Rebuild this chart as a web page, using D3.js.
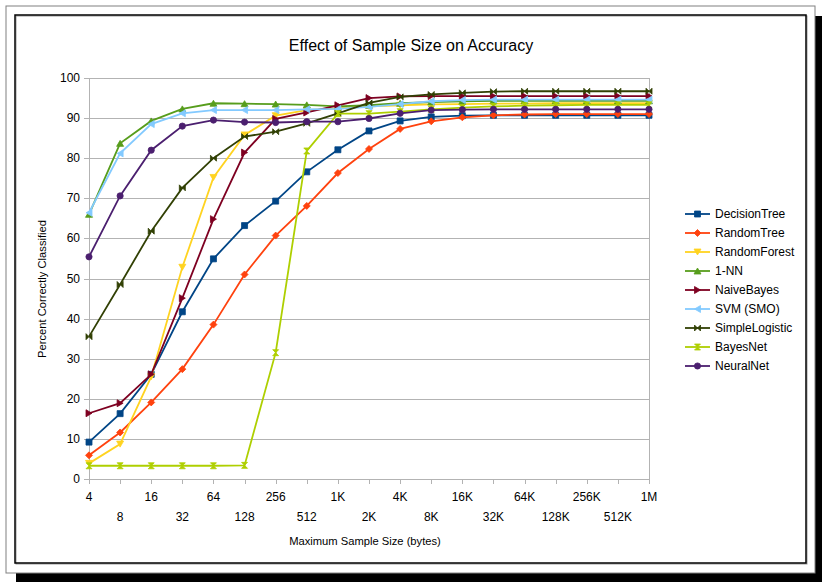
<!DOCTYPE html>
<html>
<head>
<meta charset="utf-8">
<script src="https://cdn.jsdelivr.net/npm/d3@7"></script>
<style>
  body { margin: 0; background: #fff; }
  text { font-family: "Liberation Sans", Arial, sans-serif; fill: #000; }
</style>
</head>
<body>
<svg id="chart" width="822" height="582"></svg>
<script>
const sizes = ["4", "8", "16", "32", "64", "128", "256", "512", "1K", "2K", "4K", "8K",
  "16K", "32K", "64K", "128K", "256K", "512K", "1M"];

const decisionTree = [9.2, 16.3, 26.1, 41.7, 54.9, 63.2, 69.3, 76.6, 82.1, 86.8, 89.3, 90.3, 90.6, 90.7, 90.7, 90.7, 90.7, 90.7, 90.7];
const randomTree = [5.9, 11.6, 19.1, 27.4, 38.5, 51.0, 60.7, 68.1, 76.3, 82.3, 87.3, 89.2, 90.2, 90.7, 90.9, 91.0, 91.0, 91.0, 91.0];
const randomForest = [3.9, 8.7, 25.5, 52.8, 75.2, 85.8, 90.6, 92.0, 92.5, 92.9, 93.2, 93.4, 93.5, 93.6, 93.6, 93.7, 93.7, 93.7, 93.7];
const oneNN = [66.0, 83.7, 89.3, 92.3, 93.7, 93.6, 93.5, 93.3, 92.9, 93.2, 93.7, 94.0, 94.2, 94.3, 94.3, 94.3, 94.3, 94.3, 94.3];
const naiveBayes = [16.4, 18.9, 26.1, 45.1, 64.8, 81.4, 89.8, 91.4, 93.2, 95.0, 95.4, 95.5, 95.5, 95.5, 95.5, 95.5, 95.5, 95.5, 95.5];
const svm = [66.4, 81.2, 88.5, 91.2, 92.0, 92.0, 92.0, 92.2, 92.3, 92.8, 93.5, 94.2, 94.5, 94.6, 94.6, 94.6, 94.6, 94.6, 94.6];
const simpleLogistic = [35.5, 48.5, 61.8, 72.6, 80.0, 85.4, 86.6, 88.7, 91.2, 93.8, 95.3, 95.9, 96.3, 96.6, 96.7, 96.7, 96.7, 96.7, 96.7];
const bayesNet = [3.3, 3.3, 3.3, 3.3, 3.3, 3.4, 31.5, 81.8, 91.1, 91.1, 91.6, 92.2, 92.6, 92.9, 93.1, 93.2, 93.3, 93.3, 93.3];
const neuralNet = [55.4, 70.6, 82.0, 88.0, 89.5, 89.0, 88.9, 89.1, 89.1, 89.9, 91.2, 92.0, 92.1, 92.2, 92.2, 92.2, 92.2, 92.2, 92.2];

const seriesNames = ["DecisionTree", "RandomTree", "RandomForest", "1-NN", "NaiveBayes",
  "SVM (SMO)", "SimpleLogistic", "BayesNet", "NeuralNet"];
const seriesValues = [decisionTree, randomTree, randomForest, oneNN, naiveBayes,
  svm, simpleLogistic, bayesNet, neuralNet];
const seriesColors = ["#004586", "#ff420e", "#ffd320", "#579d1c", "#7e0021",
  "#83caff", "#314004", "#aecf00", "#4b1f6f"];
const seriesMarkers = ["square", "diamond", "down", "up", "right", "left", "bowtie", "hourglass", "circle"];

const yTicks = [0, 10, 20, 30, 40, 50, 60, 70, 80, 90, 100];

const svg = d3.select("#chart");

// page frame with drop shadow
svg.append("rect").attr("x", 16).attr("y", 16).attr("width", 806).attr("height", 566).attr("fill", "#000");
svg.append("rect").attr("x", 6).attr("y", 6).attr("width", 809).attr("height", 567)
  .attr("fill", "#fff").attr("stroke", "#808080").attr("stroke-width", 1);
svg.append("rect").attr("x", 16).attr("y", 16).attr("width", 791).attr("height", 548)
  .attr("fill", "none").attr("stroke", "#999").attr("stroke-width", 1);
svg.append("rect").attr("x", 15).attr("y", 15).attr("width", 791).attr("height", 548)
  .attr("fill", "none").attr("stroke", "#000").attr("stroke-width", 1.5);

const x = d3.scalePoint().domain(sizes).range([89, 649]);
const y = d3.scaleLinear().domain([0, 100]).range([479, 78]);

// grid
svg.append("g").selectAll("line").data(yTicks).join("line")
  .attr("x1", 84).attr("x2", 649)
  .attr("y1", d => Math.round(y(d)) + 0.5).attr("y2", d => Math.round(y(d)) + 0.5)
  .attr("stroke", "#b3b3b3").attr("stroke-width", 1);

svg.append("line").attr("x1", 649.5).attr("x2", 649.5).attr("y1", y(100)).attr("y2", y(0))
  .attr("stroke", "#b3b3b3");
svg.append("line").attr("x1", 89.5).attr("x2", 89.5).attr("y1", y(100)).attr("y2", y(0) + 5)
  .attr("stroke", "#b3b3b3");

// x ticks
svg.append("g").selectAll("line").data(sizes).join("line")
  .attr("x1", d => Math.round(x(d)) + 0.5).attr("x2", d => Math.round(x(d)) + 0.5)
  .attr("y1", y(0)).attr("y2", y(0) + 5)
  .attr("stroke", "#b3b3b3");

// y labels
svg.append("g").selectAll("text").data(yTicks).join("text")
  .attr("x", 80).attr("y", d => y(d) + 4)
  .attr("text-anchor", "end").attr("font-size", 12)
  .text(d => d);

// x labels, staggered
svg.append("g").selectAll("text").data(sizes).join("text")
  .attr("x", d => x(d)).attr("y", (d, i) => i % 2 === 0 ? 501 : 521)
  .attr("text-anchor", "middle").attr("font-size", 12)
  .text(d => d);

svg.append("text").attr("x", 411).attr("y", 51).attr("text-anchor", "middle")
  .attr("font-size", 16).text("Effect of Sample Size on Accuracy");
svg.append("text").attr("x", 365).attr("y", 545).attr("text-anchor", "middle")
  .attr("font-size", 11.2).text("Maximum Sample Size (bytes)");
svg.append("text").attr("transform", "translate(46,289) rotate(-90)")
  .attr("text-anchor", "middle").attr("font-size", 11.2).text("Percent Correctly Classified");

function markerPath(kind, s) {
  const h = s / 2;
  switch (kind) {
    case "square": return `M${-h},${-h}H${h}V${h}H${-h}Z`;
    case "diamond": return `M0,${-h - 0.5}L${h + 0.5},0L0,${h + 0.5}L${-h - 0.5},0Z`;
    case "down": return `M${-h - 0.5},${-h}L${h + 0.5},${-h}L0,${h}Z`;
    case "up": return `M${-h - 0.5},${h}L${h + 0.5},${h}L0,${-h}Z`;
    case "right": return `M${-h},${-h - 0.5}L${h},0L${-h},${h + 0.5}Z`;
    case "left": return `M${h},${-h - 0.5}L${-h},0L${h},${h + 0.5}Z`;
    case "bowtie": return `M${-h},${-h}L0,0L${-h},${h}Z M${h},${-h}L0,0L${h},${h}Z`;
    case "hourglass": return `M${-h},${-h}L${h},${-h}L0,0Z M${-h},${h}L${h},${h}L0,0Z`;
    default: return d3.symbol(d3.symbolCircle, s * s * 0.85)();
  }
}

const line = d3.line().x((d, i) => x(sizes[i])).y(d => y(d));

seriesValues.forEach(function (vals, k) {
  const g = svg.append("g");
  g.append("path").datum(vals).attr("d", line)
    .attr("fill", "none").attr("stroke", seriesColors[k]).attr("stroke-width", 1.8);
  g.selectAll("path.pt").data(vals).join("path").attr("class", "pt")
    .attr("transform", (d, i) => `translate(${x(sizes[i])},${y(d)})`)
    .attr("d", markerPath(seriesMarkers[k], 6))
    .attr("fill", seriesColors[k]).attr("stroke", seriesColors[k]).attr("stroke-width", 0.8);
});

// legend
const legend = svg.append("g").selectAll("g").data(seriesNames).join("g")
  .attr("transform", (d, i) => `translate(685,${214 + i * 19})`);
legend.append("line").attr("x1", 0).attr("x2", 25)
  .attr("stroke", (d, i) => seriesColors[i]).attr("stroke-width", 1.8);
legend.append("path").attr("transform", "translate(12.5,0)")
  .attr("d", (d, i) => markerPath(seriesMarkers[i], 6))
  .attr("fill", (d, i) => seriesColors[i]).attr("stroke", (d, i) => seriesColors[i]).attr("stroke-width", 0.8);
legend.append("text").attr("x", 30).attr("y", 4).attr("font-size", 12).text(d => d);
</script>
</body>
</html>
